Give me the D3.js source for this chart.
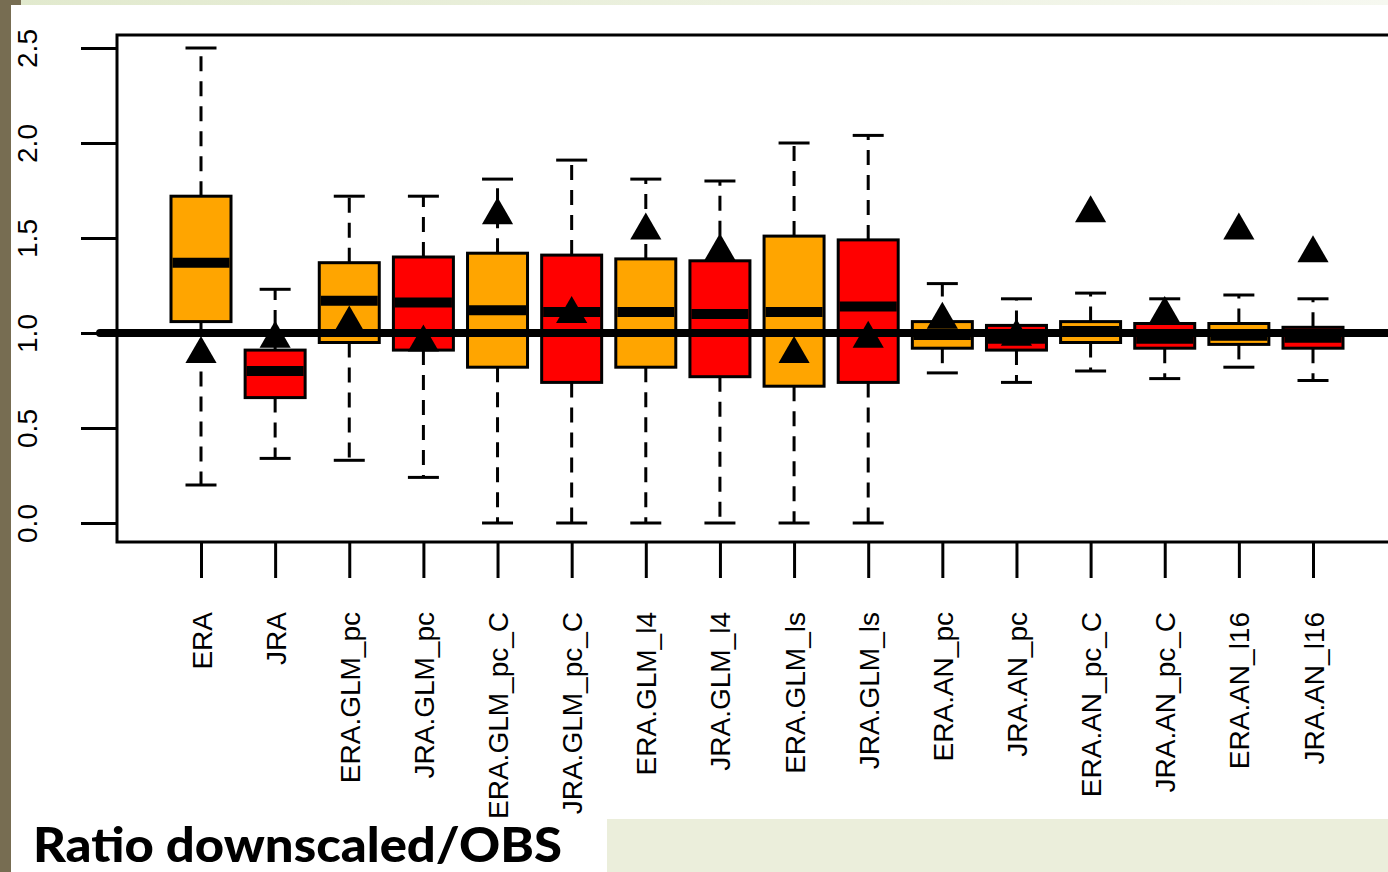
<!DOCTYPE html>
<html>
<head>
<meta charset="utf-8">
<script src="https://cdn.jsdelivr.net/npm/d3@7"></script>
<style>
  body { margin: 0; background: #fff; }
  svg { display: block; }
  text { font-family: "Liberation Sans", Arial, sans-serif; }
  text.title { font-family: Lato, "DejaVu Sans", sans-serif; font-weight: 900; }
</style>
</head>
<body>
<svg id="chart" width="1388" height="872"></svg>
<script>
// data
var categories = ["ERA", "JRA", "ERA.GLM_pc", "JRA.GLM_pc", "ERA.GLM_pc_C", "JRA.GLM_pc_C",
  "ERA.GLM_l4", "JRA.GLM_l4", "ERA.GLM_ls", "JRA.GLM_ls", "ERA.AN_pc", "JRA.AN_pc",
  "ERA.AN_pc_C", "JRA.AN_pc_C", "ERA.AN_l16", "JRA.AN_l16"];
var whiskerLow  = [0.20, 0.34, 0.33, 0.24, 0.00, 0.00, 0.00, 0.00, 0.00, 0.00, 0.79, 0.74, 0.80, 0.76, 0.82, 0.75];
var q1          = [1.06, 0.66, 0.95, 0.91, 0.82, 0.74, 0.82, 0.77, 0.72, 0.74, 0.92, 0.91, 0.95, 0.92, 0.94, 0.92];
var medians     = [1.37, 0.80, 1.17, 1.16, 1.12, 1.11, 1.11, 1.10, 1.11, 1.14, 0.99, 0.97, 1.01, 0.97, 0.985, 0.975];
var q3          = [1.72, 0.91, 1.37, 1.40, 1.42, 1.41, 1.39, 1.38, 1.51, 1.49, 1.06, 1.04, 1.06, 1.05, 1.05, 1.03];
var whiskerHigh = [2.50, 1.23, 1.72, 1.72, 1.81, 1.91, 1.81, 1.80, 2.00, 2.04, 1.26, 1.18, 1.21, 1.18, 1.20, 1.18];
var triangles   = [0.89, 0.97, 1.05, 0.95, 1.62, 1.10, 1.54, 1.43, 0.89, 0.97, 1.07, 0.98, 1.63, 1.10, 1.54, 1.42];
var fills = ["orange", "red"];
var yTicks = [0, 0.5, 1, 1.5, 2, 2.5];
var refValue = 1.0;
var title = "Ratio downscaled/OBS";

var svg = d3.select("#chart");

// slide background bits
var defs = svg.append("defs");
var grad = defs.append("linearGradient").attr("id", "topgrad");
grad.append("stop").attr("offset", "0%").attr("stop-color", "#e1e9cd");
grad.append("stop").attr("offset", "100%").attr("stop-color", "#f6f8f0");
svg.append("rect").attr("x", 0).attr("y", 0).attr("width", 1388).attr("height", 5).attr("fill", "url(#topgrad)");
svg.append("rect").attr("x", 0).attr("y", 0).attr("width", 11).attr("height", 872).attr("fill", "#776d52");
svg.append("rect").attr("x", 11).attr("y", 0).attr("width", 10).attr("height", 5).attr("fill", "#776d52");
svg.append("rect").attr("x", 607).attr("y", 819).attr("width", 781).attr("height", 53).attr("fill", "#ebeedb");

var x = d3.scalePoint().domain(categories).range([201, 1313]);
var y = d3.scaleLinear().domain([0, 2.5]).range([523, 48]);
var boxW = 60, capW = 31;

// plot box
svg.append("rect")
  .attr("x", 117).attr("y", 35)
  .attr("width", 1300).attr("height", 507)
  .attr("fill", "none").attr("stroke", "#000").attr("stroke-width", 3);

// y axis
var yAxis = svg.append("g")
  .attr("transform", "translate(117,0)")
  .call(d3.axisLeft(y).tickValues(yTicks).tickSize(36).tickSizeOuter(0).tickFormat(d3.format(".1f")));
yAxis.select(".domain").remove();
yAxis.selectAll(".tick line").attr("stroke", "#000").attr("stroke-width", 3);
yAxis.selectAll(".tick text")
  .attr("x", null).attr("dy", null)
  .attr("transform", "translate(-80,0) rotate(-90)")
  .attr("text-anchor", "middle")
  .attr("font-size", 28).attr("fill", "#000");

// x axis
var xAxis = svg.append("g")
  .attr("transform", "translate(0,542)")
  .call(d3.axisBottom(x).tickSize(36).tickSizeOuter(0));
xAxis.select(".domain").remove();
xAxis.selectAll(".tick line").attr("stroke", "#000").attr("stroke-width", 3);
xAxis.selectAll(".tick text")
  .attr("y", null).attr("dy", null)
  .attr("transform", "translate(10,70) rotate(-90)")
  .attr("text-anchor", "end")
  .attr("font-size", 28).attr("fill", "#000");

// boxes
var g = svg.append("g");
categories.forEach(function(c, i) {
  var cx = x(c);
  // whiskers
  g.append("line").attr("x1", cx).attr("x2", cx).attr("y1", y(q3[i])).attr("y2", y(whiskerHigh[i]))
    .attr("stroke", "#000").attr("stroke-width", 3).attr("stroke-dasharray", "15,10");
  g.append("line").attr("x1", cx).attr("x2", cx).attr("y1", y(q1[i])).attr("y2", y(whiskerLow[i]))
    .attr("stroke", "#000").attr("stroke-width", 3).attr("stroke-dasharray", "15,10");
  g.append("line").attr("x1", cx - capW / 2).attr("x2", cx + capW / 2).attr("y1", y(whiskerHigh[i])).attr("y2", y(whiskerHigh[i]))
    .attr("stroke", "#000").attr("stroke-width", 3);
  g.append("line").attr("x1", cx - capW / 2).attr("x2", cx + capW / 2).attr("y1", y(whiskerLow[i])).attr("y2", y(whiskerLow[i]))
    .attr("stroke", "#000").attr("stroke-width", 3);
  // box
  g.append("rect")
    .attr("x", cx - boxW / 2).attr("y", y(q3[i]))
    .attr("width", boxW).attr("height", y(q1[i]) - y(q3[i]))
    .attr("fill", fills[i % 2]).attr("stroke", "#000").attr("stroke-width", 3);
  // median
  g.append("line").attr("x1", cx - boxW / 2 + 1.5).attr("x2", cx + boxW / 2 - 1.5)
    .attr("y1", y(medians[i])).attr("y2", y(medians[i]))
    .attr("stroke", "#000").attr("stroke-width", 10);
});

// reference line
svg.append("line")
  .attr("x1", 100).attr("x2", 1388)
  .attr("y1", y(refValue)).attr("y2", y(refValue))
  .attr("stroke", "#000").attr("stroke-width", 8).attr("stroke-linecap", "round");

// triangles
svg.selectAll("path.tri")
  .data(triangles)
  .enter().append("path")
  .attr("class", "tri")
  .attr("d", d3.symbol().type(d3.symbolTriangle).size(421))
  .attr("transform", function(d, i) { return "translate(" + x(categories[i]) + "," + y(d) + ")"; })
  .attr("fill", "#000");

// title
svg.append("text")
  .attr("class", "title")
  .attr("x", 33).attr("y", 862)
  .attr("font-size", 48)
  .attr("textLength", 529).attr("lengthAdjust", "spacingAndGlyphs")
  .attr("fill", "#000")
  .text(title);
</script>
</body>
</html>
